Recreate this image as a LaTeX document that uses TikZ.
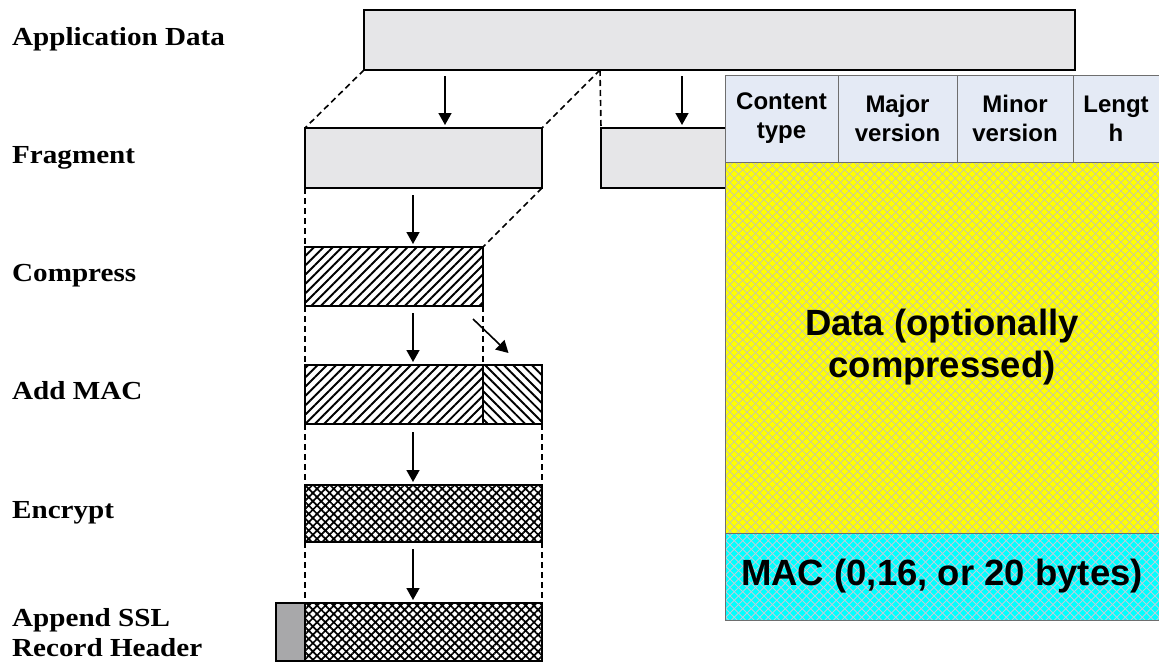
\documentclass[tikz,border=0pt]{standalone}
\usepackage{fontspec}
\setmainfont{Liberation Serif}
\newfontfamily\labelfont{Liberation Serif}[FakeStretch=1.12]
\newfontfamily\panelfont{Liberation Sans}
\usetikzlibrary{arrows.meta,patterns.meta,calc}

\definecolor{boxgray}{RGB}{230,230,232}
\definecolor{hdrgray}{RGB}{168,168,170}
\definecolor{hdrblue}{RGB}{228,234,245}
\definecolor{datayellow}{RGB}{255,255,0}
\definecolor{maccyan}{RGB}{0,255,255}
\definecolor{yellowmesh}{RGB}{205,205,150}
\definecolor{cyanmesh}{RGB}{185,208,220}
\definecolor{panelline}{RGB}{110,110,110}

% fine diamond mesh drawn inside the current node's outline
\newcommand{\drawmesh}[1]{%
  \foreach \k in {0,...,175} {
    \draw[#1, line width=0.9pt]
      ($(path picture bounding box.north west)+(\k*8.5-500,0)$) -- ++(520,520);
    \draw[#1, line width=0.9pt]
      ($(path picture bounding box.north west)+(\k*8.5,0)$) -- ++(-520,520);
  }%
}

\begin{document}
\begin{tikzpicture}[x=1pt,y=-1pt,
  blk/.style={draw=black, line width=2.2pt, inner sep=0pt, outer sep=0pt, anchor=north west},
  plainblk/.style={blk, fill=boxgray},
  fwdhatch/.style={blk, pattern={Lines[angle=45,distance=6.6pt,line width=1.9pt]}},
  backhatch/.style={blk, pattern={Lines[angle=-45,distance=6.6pt,line width=1.9pt]}},
  crosshatchblk/.style={blk, pattern={Hatch[angle=45,distance=5.9pt,line width=1.7pt]}},
  hdrblk/.style={blk, fill=hdrgray},
  guide/.style={line width=1.6pt, dash pattern=on 6pt off 4pt},
  arr/.style={line width=1.6pt, -{Triangle[length=12pt,width=13pt]}},
  lbl/.style={font=\labelfont\fontsize{26}{30}\selectfont\bfseries, inner sep=0pt, align=left},
  cell/.style={draw=panelline, line width=1pt, inner sep=0pt, outer sep=0pt, anchor=north west,
    fill=hdrblue, align=center, font=\panelfont\bfseries\fontsize{24}{29}\selectfont},
  datacell/.style={draw=panelline, line width=1pt, inner sep=0pt, outer sep=0pt, anchor=north west,
    fill=datayellow, path picture={\drawmesh{yellowmesh}},
    align=center, font=\panelfont\bfseries\fontsize{36.5}{42}\selectfont},
  maccell/.style={draw=panelline, line width=1pt, inner sep=0pt, outer sep=0pt, anchor=north west,
    fill=maccyan, path picture={\drawmesh{cyanmesh}},
    align=center, font=\panelfont\bfseries\fontsize{36.5}{42}\selectfont},
]
\useasboundingbox (0,0) rectangle (1159,664);

% step labels
\node[lbl, anchor=base west] (lapp)  at (12,45)  {Application Data};
\node[lbl, anchor=base west] (lfrag) at (12,163) {Fragment};
\node[lbl, anchor=base west] (lcomp) at (12,281) {Compress};
\node[lbl, anchor=base west] (lmac)  at (12,399) {Add MAC};
\node[lbl, anchor=base west] (lenc)  at (12,518) {Encrypt};
\node[lbl, anchor=base west] (lhdr)  at (12,656) {Append SSL\\Record Header};

% helper coordinates
\coordinate (cut) at (600,70);
\coordinate (ax1) at (445,0);
\coordinate (ax2) at (682,0);
\coordinate (ax3) at (413,0);

% data and fragments
\path
  node[plainblk, minimum width=711pt, minimum height=60pt] (app)   at (364,10)  {}
  node[plainblk, minimum width=237pt, minimum height=60pt] (frag1) at (305,128) {}
  node[plainblk, minimum width=300pt, minimum height=60pt] (frag2) at (601,128) {};

% dashed guides between fragment boundaries
\draw[guide] (app.south west) -- (frag1.north west);
\draw[guide] (cut) -- (frag1.north east);
\draw[guide] (cut) -- (frag2.north west);

\node[fwdhatch, minimum width=178pt, minimum height=59pt] (comp) at (305,247) {};
\node[fwdhatch, minimum width=178pt, minimum height=59pt] (macd) at (305,365) {};
\node[backhatch, minimum width=59pt, minimum height=59pt] (macm) at (483,365) {};
\node[crosshatchblk, minimum width=237pt, minimum height=57pt] (enc) at (305,485) {};
\node[hdrblk, minimum width=29pt, minimum height=58pt] (hdr) at (276,603) {};
\node[crosshatchblk, minimum width=237pt, minimum height=58pt] (rec) at (305,603) {};

\draw[guide] (frag1.south west) -- (comp.north west);
\draw[guide] (frag1.south east) -- (comp.north east);
\draw[guide] (comp.south west) -- (macd.north west);
\draw[guide] (comp.south east) -- (macd.north east);
\draw[guide] (macd.south west) -- (enc.north west);
\draw[guide] (macm.south east) -- (enc.north east);
\draw[guide] (enc.south west) -- (rec.north west);
\draw[guide] (enc.south east) -- (rec.north east);

% processing arrows
\draw[arr] ([yshift=-6pt]app.south -| ax1) -- ([yshift=3pt]frag1.north -| ax1);
\draw[arr] ([yshift=-6pt]app.south -| ax2) -- ([yshift=3pt]frag2.north -| ax2);
\draw[arr] ([yshift=-7pt]frag1.south -| ax3) -- ([yshift=3pt]comp.north -| ax3);
\draw[arr] ([yshift=-7pt]comp.south -| ax3) -- ([yshift=3pt]macd.north -| ax3);
\draw[arr] ([xshift=-10pt,yshift=-13pt]comp.south east) -- ([xshift=-4pt,yshift=12pt]macm.north);
\draw[arr] ([yshift=-8pt]macd.south -| ax3) -- ([yshift=3pt]enc.north -| ax3);
\draw[arr] ([yshift=-7pt]enc.south -| ax3) -- ([yshift=3pt]rec.north -| ax3);

% SSL record format panel
\node[cell, minimum width=113pt, minimum height=87pt] (ctype) at (725,75)  {Content\\type};
\node[cell, minimum width=119pt, minimum height=87pt] (major) at (838,75)  {Major\\version};
\node[cell, minimum width=116pt, minimum height=87pt] (minor) at (957,75)  {Minor\\version};
\node[cell, minimum width=86pt,  minimum height=87pt] (len)   at (1073,75) {Lengt\\h};
\node[datacell, minimum width=434pt, minimum height=371pt] (data) at (725,162) {Data (optionally\\compressed)};
\node[maccell, minimum width=434pt, minimum height=87pt] (mac) at (725,533) {MAC (0,16, or 20 bytes)};
\end{tikzpicture}
\end{document}
